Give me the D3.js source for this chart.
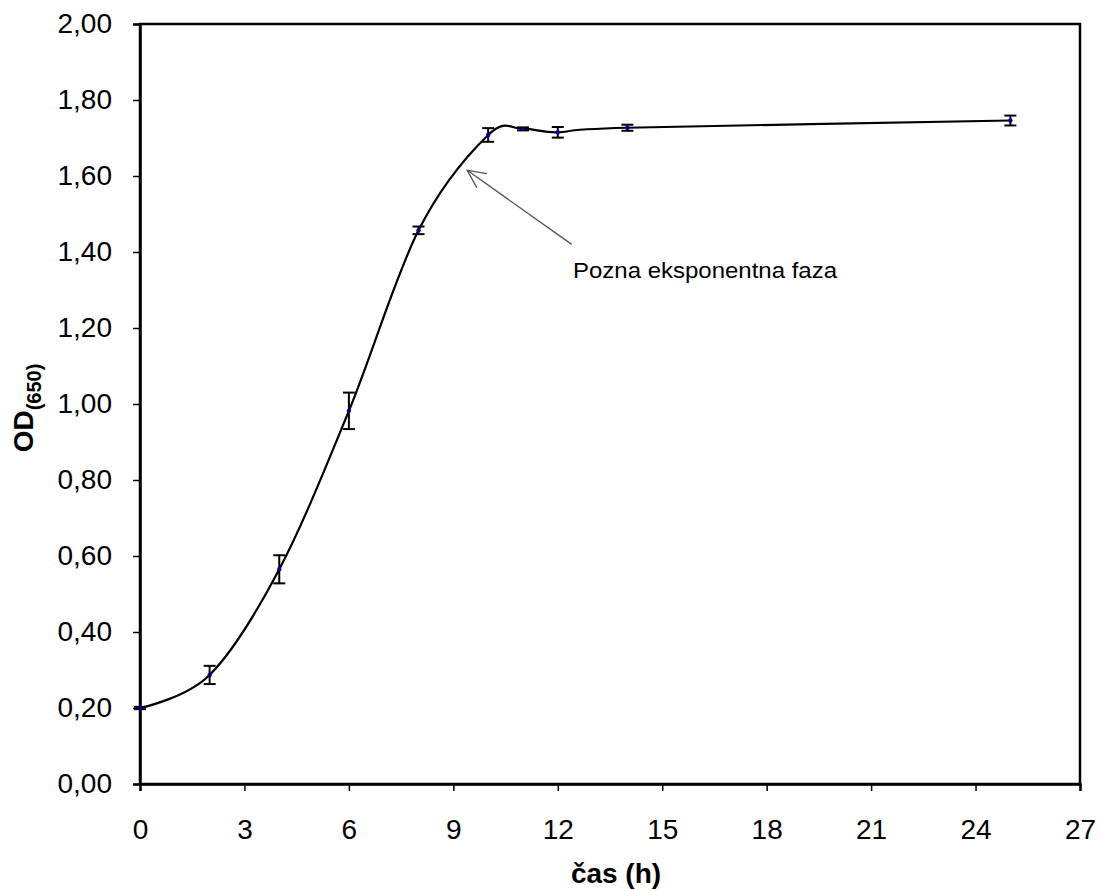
<!DOCTYPE html>
<html><head><meta charset="utf-8">
<script src="https://cdn.jsdelivr.net/npm/d3@7"></script>
<style>body{margin:0;background:#fff}svg{display:block}text{font-family:"Liberation Sans",Arial,sans-serif}</style>
</head><body>
<svg id="c" width="1100" height="891"></svg>
<script>
const times = [0, 2, 4, 6, 8, 10, 11, 12, 14, 25];
const od = [0.200, 0.287, 0.565, 0.982, 1.457, 1.708, 1.724, 1.715, 1.727, 1.746];
const errs = [0.003, 0.024, 0.037, 0.048, 0.010, 0.018, 0.004, 0.014, 0.008, 0.013];
const xTicks = [0, 3, 6, 9, 12, 15, 18, 21, 24, 27];
const yTicks = [0, 0.2, 0.4, 0.6, 0.8, 1.0, 1.2, 1.4, 1.6, 1.8, 2.0];
const annotation = {text: "Pozna eksponentna faza", fromX: 12.4, fromY: 1.42, toX: 9.4, toY: 1.615};

const svg = d3.select("#c");
const L = 140, R = 1080, T = 24, B = 784;
const x = d3.scaleLinear().domain([0, 27]).range([L, R]);
const y = d3.scaleLinear().domain([0, 2]).range([B, T]);
const fmt = d => d3.format(".2f")(d).replace(".", ",");

// frame
svg.append("rect").attr("x", L).attr("y", T).attr("width", R - L).attr("height", B - T)
  .attr("fill", "none").attr("stroke", "#000").attr("stroke-width", 2.5);

const ya = svg.append("g").attr("transform", `translate(${L},0)`)
  .call(d3.axisLeft(y).tickValues(yTicks).tickFormat(fmt).tickSize(7).tickPadding(21));
const xa = svg.append("g").attr("transform", `translate(0,${B})`)
  .call(d3.axisBottom(x).tickValues(xTicks).tickSize(7).tickPadding(28));
[ya, xa].forEach(g => {
  g.select(".domain").attr("stroke-width", 2.5);
  g.selectAll(".tick line").attr("stroke-width", 1.5);
  g.selectAll("text").attr("font-size", 28).attr("fill", "#000").attr("font-family", "Liberation Sans, Arial, sans-serif");
});

// line
const data = times.map((t, i) => ({t, v: od[i], e: errs[i]}));
svg.append("path").datum(data)
  .attr("d", d3.line().x(d => x(d.t)).y(d => y(d.v)).curve(d3.curveCardinal.tension(0)))
  .attr("fill", "none").attr("stroke", "#000").attr("stroke-width", 2.2);

// error bars
const eb = svg.append("g").attr("stroke", "#000").attr("stroke-width", 2);
data.forEach(d => {
  const cx = x(d.t), y1 = y(d.v + d.e), y2 = y(d.v - d.e);
  eb.append("line").attr("x1", cx).attr("x2", cx).attr("y1", y1).attr("y2", y2);
  eb.append("line").attr("x1", cx - 6).attr("x2", cx + 6).attr("y1", y1).attr("y2", y1);
  eb.append("line").attr("x1", cx - 6).attr("x2", cx + 6).attr("y1", y2).attr("y2", y2);
});

// points
svg.append("g").selectAll("circle").data(data).join("circle")
  .attr("cx", d => x(d.t)).attr("cy", d => y(d.v)).attr("r", 2.2).attr("fill", "#000099");

// annotation arrow
const ax1 = x(annotation.fromX), ay1 = y(annotation.fromY), ax2 = x(annotation.toX), ay2 = y(annotation.toY);
svg.append("line").attr("x1", ax1).attr("y1", ay1).attr("x2", ax2).attr("y2", ay2)
  .attr("stroke", "#555").attr("stroke-width", 1.3);
const ang = Math.atan2(ay1 - ay2, ax1 - ax2);
const hl = 20, ha = 0.45;
svg.append("path")
  .attr("d", `M${ax2 + hl * Math.cos(ang - ha)},${ay2 + hl * Math.sin(ang - ha)}L${ax2},${ay2}L${ax2 + hl * Math.cos(ang + ha)},${ay2 + hl * Math.sin(ang + ha)}`)
  .attr("fill", "none").attr("stroke", "#555").attr("stroke-width", 1.3);
svg.append("text").attr("x", 573).attr("y", 278).attr("font-size", 21.5).attr("fill", "#000")
  .attr("textLength", 264).attr("lengthAdjust", "spacingAndGlyphs")
  .text(annotation.text);

// axis titles
svg.append("text").attr("x", 616).attr("y", 883).attr("text-anchor", "middle")
  .attr("font-size", 28).attr("font-weight", "bold").text("čas (h)");
const yt = svg.append("text").attr("transform", `translate(33,${408}) rotate(-90)`)
  .attr("text-anchor", "middle").attr("font-weight", "bold").attr("font-size", 28);
yt.append("tspan").text("OD");
yt.append("tspan").attr("font-size", 20).attr("dy", 8).text("(650)");
</script>
</body></html>
